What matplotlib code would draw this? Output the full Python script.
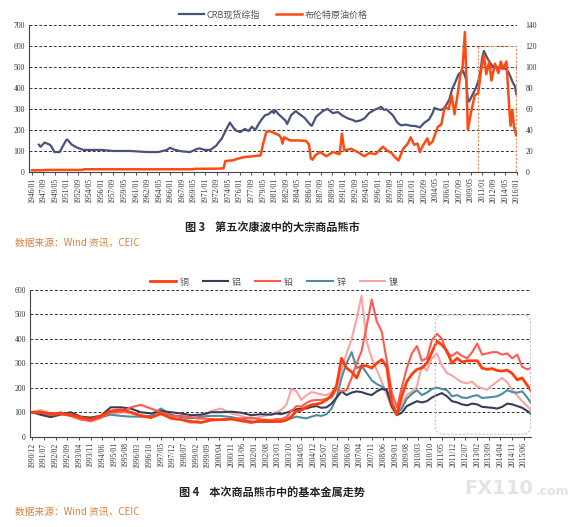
import matplotlib
matplotlib.use("Agg")
import matplotlib.pyplot as plt
import matplotlib.dates as mdates
from matplotlib.patches import Rectangle, FancyBboxPatch
import pandas as pd

plt.rcParams['font.family'] = ['Noto Sans CJK SC', 'DejaVu Sans']

# ---- 图3: CRB现货综指 (left axis) / 布伦特原油价格 (right axis) ----
crb_dates = ['1947-01', '1947-04', '1947-11', '1948-08', '1948-11', '1949-04', '1950-01',
             '1950-12', '1951-02', '1951-10', '1952-08', '1953-06', '1954-04', '1956-01',
             '1957-10', '1960-03', '1962-08', '1964-04', '1965-07', '1965-12', '1966-09',
             '1967-09', '1968-11', '1969-11', '1970-04', '1970-12', '1971-10', '1972-08',
             '1973-06', '1974-03', '1974-08', '1975-02', '1975-08', '1976-02', '1976-10',
             '1977-04', '1977-10', '1978-04', '1978-09', '1979-03', '1979-09', '1980-03',
             '1980-09', '1980-12', '1981-02', '1981-08', '1982-02', '1982-08', '1982-11',
             '1983-06', '1984-02', '1984-06', '1985-05', '1986-04', '1986-06', '1987-01',
             '1988-01', '1988-09', '1989-06', '1990-03', '1990-11', '1991-08', '1992-04',
             '1992-10', '1993-06', '1994-01', '1994-09', '1995-06', '1996-03', '1996-06',
             '1996-11', '1997-03', '1998-02', '1998-10', '1999-04', '2000-01', '2000-09',
             '2001-06', '2002-01', '2002-09', '2003-05', '2003-11', '2004-02', '2004-08',
             '2005-02', '2005-08', '2006-04', '2006-09', '2007-02', '2007-08', '2008-04',
             '2008-09', '2008-12', '2009-02', '2009-05', '2010-02', '2010-06', '2010-10',
             '2011-01', '2011-04', '2011-10', '2012-06', '2013-06', '2014-07', '2014-12',
             '2015-06', '2015-10', '2015-12']
crb_values = [130, 120, 140, 130, 120, 95, 95,
              150, 155, 130, 115, 105, 105, 105,
              100, 100, 95, 95, 105, 115, 105,
              98, 95, 110, 112, 105, 105, 125,
              160, 210, 235, 210, 195, 190, 205,
              195, 215, 200, 225, 250, 270, 275,
              290, 280, 295, 275, 260, 245, 228,
              270, 290, 280, 258, 222, 220, 262,
              290, 300, 280, 285, 268, 255, 248,
              240, 245, 255, 280, 295, 305, 310,
              295, 298, 270, 235, 222, 225, 220,
              218, 212, 235, 250, 280, 305, 298,
              295, 305, 345, 395, 425, 465, 480,
              440, 345, 335, 350, 400, 430, 480,
              545, 575, 540, 505, 495, 490, 465,
              425, 405, 370]

brent_dates = ['1946-01', '1947-10', '1947-12', '1953-05', '1953-07', '1969-04', '1969-06',
               '1972-12', '1973-09', '1973-12', '1975-02', '1975-09', '1976-09', '1977-12',
               '1979-01', '1979-06', '1979-11', '1980-04', '1981-01', '1981-09', '1982-01',
               '1982-03', '1982-06', '1983-04', '1984-06', '1985-08', '1986-01', '1986-04',
               '1986-07', '1986-12', '1987-08', '1988-07', '1989-06', '1990-06', '1990-10',
               '1991-02', '1992-02', '1993-01', '1994-01', '1994-09', '1995-08', '1996-09',
               '1997-03', '1997-12', '1998-06', '1998-12', '1999-08', '2000-04', '2000-09',
               '2001-03', '2001-09', '2002-01', '2002-06', '2003-02', '2003-05', '2003-11',
               '2004-08', '2005-02', '2005-08', '2006-03', '2006-08', '2007-01', '2007-07',
               '2007-11', '2008-03', '2008-07', '2008-09', '2008-12', '2009-05', '2009-12',
               '2010-06', '2010-12', '2011-04', '2011-08', '2012-01', '2012-05', '2012-11',
               '2013-05', '2013-09', '2014-01', '2014-07', '2014-12', '2015-02', '2015-05',
               '2015-08', '2015-12']
brent_values = [1.6, 1.7, 2.0, 2.0, 2.6, 2.6, 3.0,
                3.2, 3.6, 10.4, 11.2, 12.6, 14.2, 15.0,
                15.8, 28, 38, 39, 37, 35, 32,
                27, 33, 30, 30, 29.5, 26, 13,
                11.7, 15.9, 19, 15, 19, 17, 36.5,
                20.6, 22, 19, 15, 18, 17, 24,
                21, 18, 14, 11, 22, 27, 33,
                26, 27, 19, 25, 32, 26, 29,
                43, 45, 62, 60, 73, 55, 76,
                92, 100, 133, 98, 40, 55, 73,
                75, 100, 111, 93, 105, 87, 103,
                94, 105, 98, 105, 59, 44, 59,
                43, 35]

# dashed highlight box on 图3 (dates, right-axis values)
box3_dates = ['2010-05', '2015-12']
box3_values = [0, 120]

# ---- 图4: 基本金属走势 (1990/12 = 100) ----
metal_dates = (pd.DatetimeIndex(['1990-12-01'])
               .append(pd.date_range('1991-05-01', '2002-11-01', freq='6MS'))
               .append(pd.date_range('2003-02-01', '2015-08-01', freq='3MS'))
               .append(pd.DatetimeIndex(['2015-10-01'])))

copper = [100, 100, 95, 95, 90, 80, 70, 85, 105, 110, 100, 85, 78, 95, 75, 70, 62, 58, 68, 70, 72, 65, 58, 65, 62,
          62, 62, 68, 82, 105, 108, 122, 130, 133, 138, 150, 170, 210, 320, 280, 265,
          240, 290, 290, 280, 300, 315, 285, 140, 90, 165, 225, 255, 275, 280, 300, 345,
          390, 375, 350, 300, 320, 305, 310, 310, 310, 280, 275, 278, 270, 268, 272, 258,
          232, 240, 210, 190]
aluminium = [100, 90, 80, 90, 100, 82, 78, 85, 120, 120, 115, 100, 95, 105, 100, 95, 88, 90, 100, 100, 102, 98, 88, 92, 90,
             95, 92, 98, 105, 112, 115, 115, 122, 125, 118, 120, 135, 160, 185, 170, 180,
             185, 182, 175, 170, 185, 195, 190, 125, 88, 98, 125, 135, 145, 140, 145, 160,
             170, 178, 165, 145, 140, 132, 128, 135, 132, 122, 120, 118, 115, 122, 135, 132,
             125, 118, 105, 95]
lead = [100, 98, 90, 92, 85, 70, 65, 78, 100, 100, 120, 130, 115, 100, 85, 85, 80, 75, 72, 68, 72, 75, 78, 70, 68,
        72, 72, 80, 105, 125, 123, 138, 148, 150, 150, 155, 160, 195, 185, 190, 240,
        300, 350, 450, 560, 470, 430, 310, 180, 120, 200, 280, 340, 370, 310, 320, 395,
        420, 400, 340, 330, 345, 330, 320, 345, 380, 335, 340, 345, 345, 335, 340, 320,
        335, 285, 275, 280]
zinc = [100, 95, 85, 100, 85, 75, 75, 80, 90, 85, 82, 82, 85, 115, 90, 80, 75, 82, 85, 85, 80, 72, 62, 60, 60,
        65, 65, 68, 75, 82, 78, 75, 82, 88, 85, 92, 115, 160, 240, 300, 345,
        280, 290, 260, 230, 215, 205, 190, 125, 95, 115, 155, 175, 190, 170, 180, 195,
        200, 195, 190, 165, 170, 160, 158, 165, 170, 158, 160, 162, 165, 175, 190, 182,
        180, 185, 160, 140]
nickel = [100, 110, 95, 95, 85, 75, 62, 75, 95, 100, 95, 90, 80, 90, 80, 70, 55, 75, 105, 115, 95, 85, 72, 82, 92,
          100, 110, 130, 195, 185, 150, 170, 182, 178, 172, 170, 180, 200, 270, 340, 400,
          480, 575, 389, 320, 273, 225, 170, 116, 89, 130, 170, 184, 205, 290, 270, 320,
          340, 290, 260, 250, 235, 222, 218, 225, 205, 198, 192, 210, 225, 240, 222, 190,
          168, 145, 125, 108]

box4_dates = ['2011-01', '2015-10']
box4_values = [10, 497]

serif = 'Liberation Serif'
tick_color = '#333333'

fig = plt.figure(figsize=(5.84, 5.27), dpi=100)

# ================= 图3 =================
ax1 = fig.add_axes([0.0497, 0.6736, 0.836, 0.2795])
ax2 = ax1.twinx()

l_crb, = ax1.plot(pd.to_datetime(crb_dates), crb_values, color='#48527c', lw=1.6, label='CRB现货综指')
l_brent, = ax2.plot(pd.to_datetime(brent_dates), brent_values, color='#ff4a12', lw=1.8, label='布伦特原油价格')

b0, b1 = pd.to_datetime(box3_dates)
x0 = mdates.date2num(b0)
ax2.add_patch(Rectangle((x0, box3_values[0]), mdates.date2num(b1) - x0, box3_values[1] - box3_values[0],
                        fill=False, edgecolor='#f08a5a', lw=0.8, linestyle=(0, (2, 1.5))))

ax1.set_ylim(0, 700)
ax2.set_ylim(0, 140)
ax1.set_yticks(range(0, 701, 100))
ax2.set_yticks(range(0, 141, 20))
ax1.set_xlim(pd.Timestamp('1945-08-01'), pd.Timestamp('2016-01-20'))

ticks3 = pd.date_range('1946-01-01', '2016-01-01', freq='20MS')
ax1.set_xticks(ticks3)
ax1.set_xticklabels([d.strftime('%Y/%m') for d in ticks3], rotation=90)
ax1.yaxis.grid(True, linestyle=(0, (3, 2)), color='#333333', lw=0.7)
ax1.set_axisbelow(True)

for ax in (ax1, ax2):
    ax.spines['top'].set_visible(False)
    ax.spines['right'].set_visible(False)
ax2.spines['left'].set_visible(False)
ax2.spines['bottom'].set_visible(False)
ax1.spines['left'].set_color('#444444')
ax1.spines['bottom'].set_color('#444444')
ax1.tick_params(axis='x', length=2.5, width=0.6, pad=1.5, colors=tick_color)
ax1.tick_params(axis='y', length=0, pad=3, colors=tick_color)
ax2.tick_params(axis='y', length=0, pad=6, colors=tick_color)
for lbl in ax1.get_xticklabels() + ax1.get_yticklabels() + ax2.get_yticklabels():
    lbl.set_fontfamily(serif)
    lbl.set_fontsize(5.5)

leg = ax1.legend(handles=[l_crb, l_brent], loc='center', bbox_to_anchor=(0.5, 1.066), ncol=2,
                 frameon=False, fontsize=6.5, handlelength=2.8, columnspacing=1.8, handletextpad=0.3)
for t in leg.get_texts():
    t.set_color('#555555')

# ================= 图4 =================
ax3 = fig.add_axes([0.0514, 0.1713, 0.858, 0.279])

series = [('铜', copper, '#ff3d0d', 2.0, 5),
          ('铝', aluminium, '#383d56', 1.5, 3),
          ('铅', lead, '#ff5a4f', 1.5, 4),
          ('锌', zinc, '#4f8aa6', 1.5, 2),
          ('镍', nickel, '#f8a4a2', 1.5, 1)]
handles = []
for name, vals, col, lw, z in series:
    h, = ax3.plot(metal_dates, vals, color=col, lw=lw, zorder=z, label=name)
    handles.append(h)

c0, c1 = pd.to_datetime(box4_dates)
cx0 = mdates.date2num(c0)
ax3.add_patch(FancyBboxPatch((cx0, box4_values[0]), mdates.date2num(c1) - cx0, box4_values[1] - box4_values[0],
                             boxstyle='round,pad=0,rounding_size=150', mutation_aspect=0.224,
                             fill=False, edgecolor='#c4c4c4', lw=0.8, linestyle=(0, (2, 1.5)), zorder=6))

ax3.set_ylim(0, 600)
ax3.set_yticks(range(0, 601, 100))
ax3.set_xlim(pd.Timestamp('1990-10-25'), pd.Timestamp('2015-10-10'))
ticks4 = pd.date_range('1990-12-01', '2015-06-01', freq='7MS')
ax3.set_xticks(ticks4)
ax3.set_xticklabels([d.strftime('%Y/%m') for d in ticks4], rotation=90)
ax3.yaxis.grid(True, linestyle=(0, (3, 2)), color='#333333', lw=0.7)
ax3.set_axisbelow(True)
ax3.spines['top'].set_visible(False)
ax3.spines['right'].set_visible(False)
ax3.spines['left'].set_color('#444444')
ax3.spines['bottom'].set_color('#444444')
ax3.tick_params(axis='x', length=2.5, width=0.6, pad=1.5, colors=tick_color)
ax3.tick_params(axis='y', length=0, pad=3, colors=tick_color)
for lbl in ax3.get_xticklabels() + ax3.get_yticklabels():
    lbl.set_fontfamily(serif)
    lbl.set_fontsize(5.5)

leg4 = ax3.legend(handles=handles, loc='center', bbox_to_anchor=(0.487, 1.052), ncol=5,
                  frameon=False, fontsize=6.5, handlelength=2.8, columnspacing=1.6, handletextpad=0.4)
for t in leg4.get_texts():
    t.set_color('#555555')

# ---- captions ----
fig.text(0.466, 0.567, '图 3    第五次康波中的大宗商品熊市', ha='center', va='center',
         fontsize=8, fontweight='bold', color='#222222')
fig.text(0.026, 0.539, '数据来源：Wind 资讯，CEIC', ha='left', va='center', fontsize=7, color='#d9823b')
fig.text(0.466, 0.0645, '图 4    本次商品熊市中的基本金属走势', ha='center', va='center',
         fontsize=8, fontweight='bold', color='#222222')
fig.text(0.026, 0.0285, '数据来源：Wind 资讯，CEIC', ha='left', va='center', fontsize=7, color='#d9823b')
fig.text(0.795, 0.074, 'FX110', ha='left', va='center', fontsize=14, fontweight='bold',
         color='#e4e4e4', family='DejaVu Sans')
fig.text(0.918, 0.068, '.com', ha='left', va='center', fontsize=9, fontweight='bold',
         color='#e4e4e4', family='DejaVu Sans')

fig.savefig('out.png', dpi=100)
